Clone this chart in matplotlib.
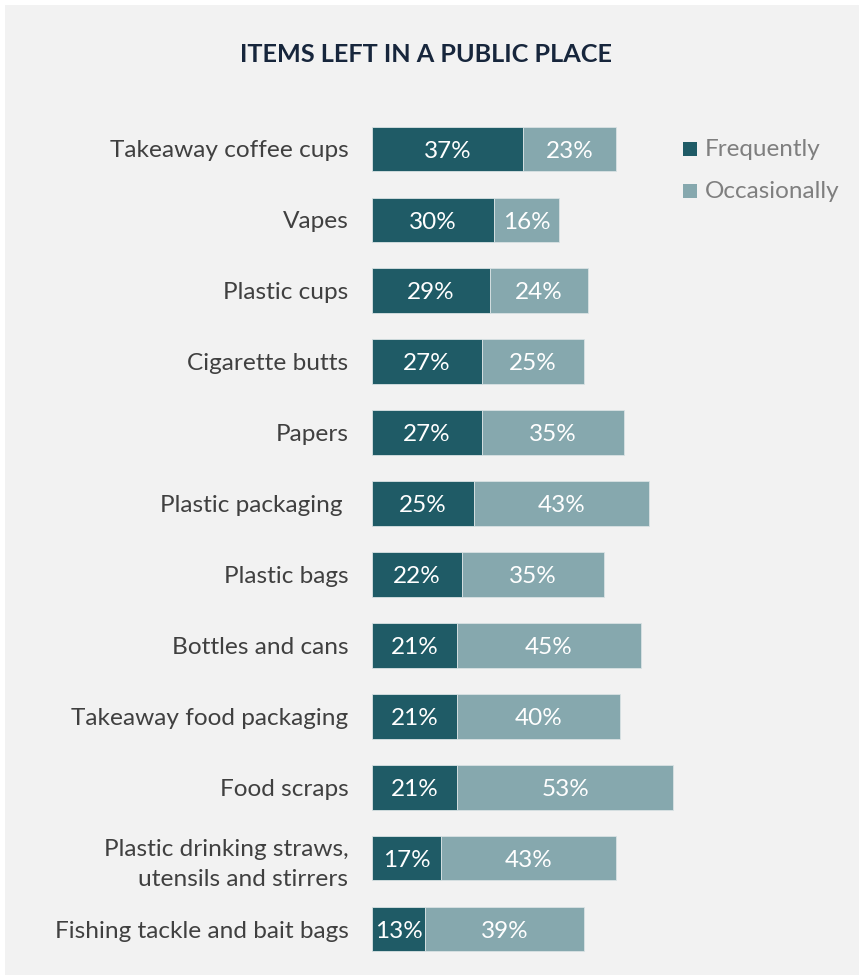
import matplotlib.pyplot as plt
from matplotlib.patches import Rectangle

plt.rcParams['font.family'] = ['Lato', 'DejaVu Sans']

items = [
    "Takeaway coffee cups",
    "Vapes",
    "Plastic cups",
    "Cigarette butts",
    "Papers",
    "Plastic packaging ",
    "Plastic bags",
    "Bottles and cans",
    "Takeaway food packaging",
    "Food scraps",
    "Plastic drinking straws,\nutensils and stirrers",
    "Fishing tackle and bait bags",
]
frequently = [37, 30, 29, 27, 27, 25, 22, 21, 21, 21, 17, 13]
occasionally = [23, 16, 24, 25, 35, 43, 35, 45, 40, 53, 43, 39]

dark = "#1f5b66"
light = "#86a8ae"
W, H = 862, 975

fig = plt.figure(figsize=(W / 100, H / 100), dpi=100)
fig.patch.set_facecolor("white")
fig.patches.append(Rectangle((5 / W, 0), 854 / W, 970 / H,
                             transform=fig.transFigure,
                             facecolor="#f2f2f2", edgecolor="none", zorder=-5))

ax = fig.add_axes([372 / W, 1 - 964.5 / H, 407 / W, 851 / H])
ax.set_facecolor("none")
ax.set_zorder(2)

y = list(range(len(items)))
ax.barh(y, frequently, height=0.63, color=dark, edgecolor="#d9e2e4",
        linewidth=0.6, label="Frequently")
ax.barh(y, occasionally, left=frequently, height=0.63, color=light,
        edgecolor="#d9e2e4", linewidth=0.6, label="Occasionally")

for yi, f, o in zip(y, frequently, occasionally):
    ax.text(f / 2, yi + 0.03, f"{f}%", ha="center", va="center",
            color="white", fontsize=17.5)
    ax.text(f + o / 2, yi + 0.03, f"{o}%", ha="center", va="center",
            color="white", fontsize=17.5)

ax.set_xlim(0, 100)
ax.set_ylim(len(items) - 0.5, -0.5)
ax.set_yticks(y)
ax.set_yticklabels(items, fontsize=17.6, color="#404040", linespacing=1.55)
ax.tick_params(axis="y", length=0, pad=17)
ax.set_xticks([])
for s in ax.spines.values():
    s.set_visible(False)

# legend drawn by hand to keep the swatch spacing
for ty, color, name in [(149, dark, "Frequently"), (191, light, "Occasionally")]:
    fig.patches.append(Rectangle((683 / W, 1 - (ty + 7) / H), 14 / W, 14 / H,
                                 transform=fig.transFigure,
                                 facecolor=color, edgecolor="none"))
    fig.text(705 / W, 1 - (ty + 1) / H, name, ha="left", va="center",
             fontsize=17.5, color="#7f7f7f")

fig.text(426 / W, 1 - 55 / H, "ITEMS LEFT IN A PUBLIC PLACE", ha="center",
         va="center", fontsize=18.2, fontweight="bold", color="#17263c")

fig.savefig("out.png", dpi=100, facecolor=fig.get_facecolor())
